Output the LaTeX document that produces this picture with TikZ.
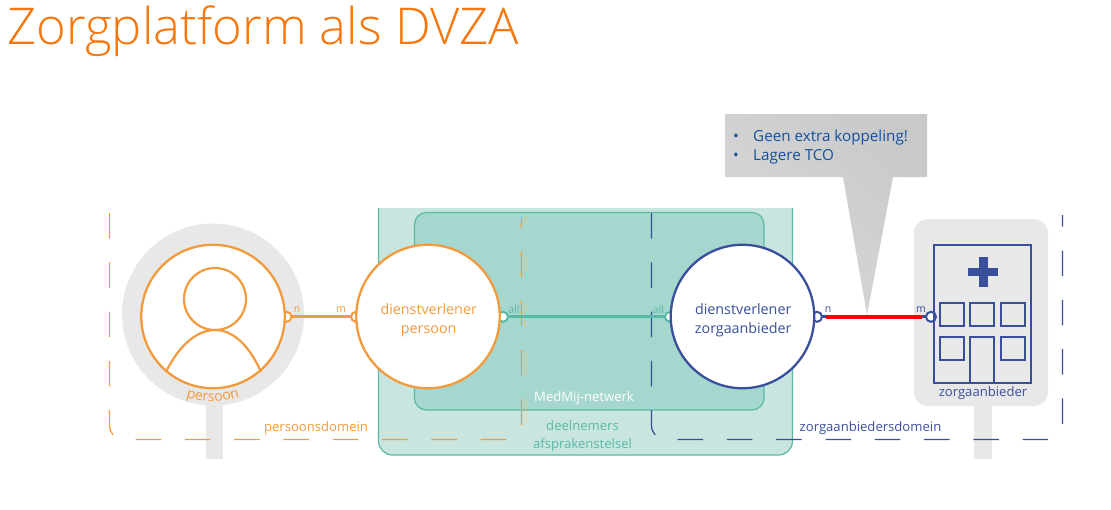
\documentclass[tikz,border=0pt]{standalone}
\usepackage{fontspec}
\setmainfont{Open Sans}
\newfontfamily\titlefont{Open Sans Light}
\usetikzlibrary{arrows,positioning,decorations.text}
\definecolor{orangeline}{HTML}{F29A3C}
\definecolor{titleorange}{HTML}{F5770F}
\definecolor{tealline}{HTML}{5AB9A6}
\definecolor{tealouter}{HTML}{C8E5E0}
\definecolor{tealinner}{HTML}{A6D7CF}
\definecolor{blueline}{HTML}{3A4F9C}
\definecolor{calloutblue}{HTML}{14509C}
\definecolor{poolgray}{HTML}{E8E8E8}
\tikzset{
    %Define style for the big circles
    actor/.style={
           circle,
           draw=orangeline, line width=2.3pt,
           fill=white,
           inner sep=0pt, outer sep=0pt,
           minimum size=143.5pt},
    provider/.style={
           actor,
           draw=blueline},
    actortext/.style={
           font=\fontsize{14.3}{19}\selectfont,
           align=center,
           inner sep=0pt,
           xshift=.7pt,
           yshift=-4pt},
    %Define style for the connector ends
    port/.style={
           circle,
           draw=orangeline, line width=2pt,
           fill=white,
           inner sep=0pt, outer sep=0pt,
           minimum size=10pt},
    tag/.style={
           font=\fontsize{10.5}{11}\selectfont,
           inner sep=0pt},
    domainline/.style={
           line width=1.25pt,
           rounded corners=14pt,
           dash pattern=on 25.5pt off 23.8pt},
    caption/.style={
           font=\fontsize{13.1}{18}\selectfont,
           inner sep=0pt,
           align=center},
    % Define connector style
    pil/.style={
           line width=3pt,
           draw=orangeline},
    iconline/.style={
           draw=orangeline, line width=2.2pt},
    windowbox/.style={
           draw=blueline, line width=2pt}
}

\begin{document}
\begin{tikzpicture}[x=1pt,y=-1pt]
\useasboundingbox (0,0) rectangle (1111,509);

\node[anchor=base west,inner sep=0pt,text=titleorange,font=\titlefont\fontsize{50.7}{50}\selectfont](title) at (7,44){Zorgplatform als DVZA};

 %backgrounds
\fill[poolgray] (213,314.5) circle[radius=91pt];
\fill[poolgray] (206,400) rectangle (223,459);
\fill[poolgray] (974,400) rectangle (992,459);
\fill[poolgray,rounded corners=14pt] (914,219) rectangle (1048,406);

\fill[tealouter] (378.5,208) -- (378.5,441) arc[start angle=180,end angle=270,radius=14pt] -- (778.5,455) arc[start angle=270,end angle=360,radius=14pt] -- (792.5,208) -- cycle;
\draw[tealline,line width=1.2pt] (378.5,208) -- (378.5,441) arc[start angle=180,end angle=270,radius=14pt] -- (778.5,455) arc[start angle=270,end angle=360,radius=14pt] -- (792.5,208);
\draw[tealline,fill=tealinner,line width=1.2pt,rounded corners=12pt] (414.5,212.5) rectangle (764,410);

 %domains
\draw[domainline,orangeline] (109.5,213) -- (109.5,439.5) -- (521.5,439.5) -- (521.5,217);
\draw[domainline,blueline] (651.5,213) -- (651.5,439.5) -- (1062.5,439.5) -- (1062.5,215);

 %callout
\path[left color=black!15,right color=black!21,shading angle=135]
    (725,114) -- (927,114) -- (927,177) -- (893,177) -- (867,315) -- (843,177) -- (725,177) -- cycle;
\node[anchor=west,inner sep=0pt,align=left,text=calloutblue,font=\fontsize{15.2}{19}\selectfont](remark) at (733,147){\makebox[20pt][l]{\textbullet}Geen extra koppeling!\\\makebox[20pt][l]{\textbullet}Lagere TCO};

 %connector ends
\node[port](pn) at (286.5,316.8){};
\node[port](pm) at (356,316.8){};
\node[port,draw=tealline](da) at (503,316.8){};
\node[port,draw=tealline](za) at (670,316.8){};
\node[port,draw=blueline](zn) at (817,316.8){};
\node[port,draw=blueline](zm) at (931,316.8){};
\coordinate (rs) at (826,316.8);
\coordinate (re) at (922,316.8);

 \path[pil]
    (pn) edge (pm)
    (da) edge[draw=tealline] (za)
    (zn) edge[draw=blueline] (zm)
    (rs) edge[draw=red,line width=3.4pt] (re);

 %nodes
\node[actor](person) at (213,316.5){};
\node[actor, right=71.5pt of person, label={[actortext,text=orangeline]center:{dienstverlener\\persoon}}](dvp){};
\node[provider, right=171pt of dvp, label={[actortext,text=blueline]center:{dienstverlener\\zorgaanbieder}}](dvz){};

 %person icon
\draw[iconline] (215,299) circle[radius=31pt];
\draw[iconline] (166,372) .. controls (178,347) and (196,330) .. (215,330) .. controls (234,330) and (250,347) .. (261,372);
\path[decorate,decoration={text along path,text align=center,text={|\fontsize{14}{14}\selectfont\color{orangeline}|persoon}}]
    (158.3,381.6) arc[start angle=230,end angle=310,radius=85pt];

 %building icon
\draw[windowbox] (933.5,244.5) rectangle (1031,383);
\fill[blueline] (978.5,257) rectangle (987.5,287);
\fill[blueline] (968,268) rectangle (998,276);
\foreach \x in {940,970,1001}
    \draw[windowbox] (\x,302.5) rectangle ++(24,23.5);
\foreach \x in {940,1001}
    \draw[windowbox] (\x,336.5) rectangle ++(24,23.5);
\draw[windowbox] (970,383) -- (970,336.5) -- (994,336.5) -- (994,383);

 %labels
\node[tag,text=orangeline](pnt) at (297,310){n};
\node[tag,text=orangeline](pmt) at (341,310){m};
\node[tag,text=tealline](dat) at (514,310){all};
\node[tag,text=tealline](zat) at (658.5,310){all};
\node[tag,text=blueline](znt) at (828,309.5){n};
\node[tag,text=blueline](zmt) at (921,309.5){m};
\node[caption,text=orangeline](pdom) at (316,428.5){persoonsdomein};
\node[caption,text=blueline](zdom) at (870.5,428.5){zorgaanbiedersdomein};
\node[caption,text=blueline](zorg) at (983,393.5){zorgaanbieder};
\node[caption,text=white](net) at (584,398.5){MedMij-netwerk};
\node[caption,text=tealline](deel) at (582.5,436){deelnemers\\afsprakenstelsel};

\end{tikzpicture}
\end{document}
